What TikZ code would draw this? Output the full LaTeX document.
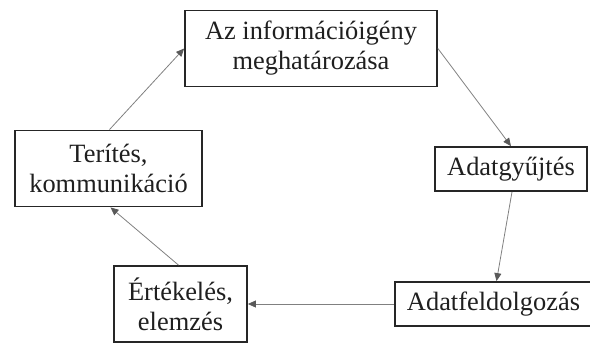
\documentclass[tikz,border=0pt]{standalone}
\usepackage{fontspec}
\setmainfont{Liberation Serif}
\usetikzlibrary{arrows.meta}
\begin{document}
\begin{tikzpicture}[x=1pt,y=-1pt,
  box/.style={draw=black!85, line width=1.8pt, fill=white, align=center, inner sep=0pt,
    font=\fontsize{26.4}{30}\selectfont, text=black!88},
  conn/.style={draw=black!50, line width=0.8pt, -{Triangle[length=8pt,width=7pt,color=black!65]}}]
\useasboundingbox (0,0) rectangle (590,343);
\node[box, minimum width=252pt, minimum height=76pt] (top) at (311,48.5) {Az információigény\\meghatározása};
\node[box, minimum width=152pt, minimum height=44pt] (gy) at (511,169) {Adatgyűjtés};
\node[box, minimum width=197pt, minimum height=44pt] (fd) at (493.5,304) {Adatfeldolgozás};
\node[box, minimum width=133pt, minimum height=76pt] (ert) at (180.5,304) {Értékelés,\\elemzés};
\node[box, minimum width=187pt, minimum height=76pt] (ter) at (108.5,168.5) {Terítés,\\kommunikáció};
\draw[conn] (top.east) -- (gy.north);
\draw[conn] ([xshift=1pt]gy.south) -- ([xshift=3pt]fd.north);
\draw[conn] (fd.west) -- (ert.east);
\draw[conn] ([xshift=-2pt]ert.north) -- ([xshift=2pt]ter.south);
\draw[conn] ([xshift=1pt]ter.north) -- (top.west);
\end{tikzpicture}
\end{document}
